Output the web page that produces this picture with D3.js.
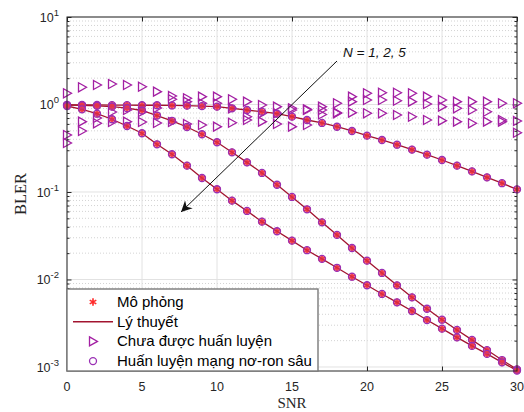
<!DOCTYPE html>
<html>
<head>
<meta charset="utf-8">
<script src="https://cdn.jsdelivr.net/npm/d3@7"></script>
<style>
  body { margin: 0; background: #fff; }
  svg { display: block; }
</style>
</head>
<body>
<div id="chart"></div>
<script>

// canvas size and plot box
const width = 524;
const height = 412;
const margin = {left: 67, right: 7, top: 17, bottom: 41};

// SNR values (x axis)
const snr = d3.range(0, 31);

// theory / simulated BLER, one array per N
const blerN1 = [0.99, 0.99, 0.99, 0.985, 0.985, 0.98, 0.98, 0.975, 0.97, 0.96,
  0.944, 0.905, 0.865, 0.827, 0.785, 0.726, 0.665, 0.615, 0.557, 0.498,
  0.44, 0.393, 0.347, 0.305, 0.267, 0.232, 0.2, 0.172, 0.147, 0.126, 0.107];
const blerN2 = [0.987, 0.979, 0.966, 0.944, 0.908, 0.854, 0.748, 0.651, 0.553, 0.457,
  0.37, 0.284, 0.218, 0.165, 0.121, 0.0877, 0.0634, 0.045, 0.0323, 0.0229,
  0.0164, 0.01187, 0.00857, 0.00625, 0.00463, 0.00347, 0.00265, 0.00204, 0.00156, 0.0012, 0.00094];
const blerN5 = [0.961, 0.881, 0.785, 0.678, 0.568, 0.469, 0.351, 0.27, 0.2, 0.1445,
  0.1074, 0.0796, 0.0607, 0.0458, 0.0356, 0.0278, 0.0216, 0.0172, 0.0136, 0.01076,
  0.00859, 0.00683, 0.00548, 0.00436, 0.00344, 0.00274, 0.00218, 0.00174, 0.00141, 0.00113, 0.00091];

// untrained receiver BLER (triangles), three series
const untrainedA = [1.343, 1.573, 1.671, 1.715, 1.671, 1.597, 1.401, 1.251, 1.177, 1.228,
  1.228, 1.147, 1.077, 0.987, 0.944, 0.905, 0.882, 0.944, 1.032, 1.228,
  1.343, 1.364, 1.364, 1.343, 1.228, 1.126, 1.077, 1.077, 1.077, 1.032, 1.032];
const untrainedB = [0.363, 0.498, 0.701, 0.821, 0.865, 0.821, 0.912, 1.147, 1.077, 1.032,
  1.032, 0.905, 0.725, 0.793, 0.793, 0.865, 0.865, 0.865, 0.806, 1.077,
  1.126, 1.126, 1.105, 1.077, 1.013, 0.944, 0.905, 0.865, 0.827, 0.665, 0.648];
const untrainedC = [0.448, 0.636, 0.61, 0.631, 0.636, 0.631, 0.615, 0.631, 0.599, 0.583,
  0.558, 0.619, 0.665, 0.636, 0.599, 0.558, 0.583, 0.769, 0.793, 0.806,
  0.793, 0.793, 0.759, 0.725, 0.665, 0.653, 0.636, 0.61, 0.636, 0.636, 0.476];

// axis ticks and legend text
const xTicks = [0, 5, 10, 15, 20, 25, 30];
const yTickExp = [1, 0, -1, -2, -3];
const legendLabels = ["Mô phỏng", "Lý thuyết", "Chưa được huấn luyện", "Huấn luyện mạng nơ-ron sâu"];

const lineColor = "#a2142f";
const starColor = "#ff2a2a";
const triColor = "#a31fa3";
const circColor = "#9a2fb4";
const axisColor = "#262626";

const svg = d3.select("#chart")
  .append("svg")
  .attr("width", width)
  .attr("height", height)
  .attr("font-family", "'Liberation Sans', Arial, sans-serif");

// scales
const xScale = d3.scaleLinear()
  .domain([0, 30])
  .range([margin.left, width - margin.right]);

const yScale = d3.scaleLog()
  .domain([Math.pow(10, -3.046), 10])
  .range([height - margin.bottom, margin.top]);

const x0 = xScale.range()[0], x1 = xScale.range()[1];
const yb = yScale.range()[0], yt = yScale.range()[1];

// minor tick values 2..9 x 10^k
const minorVals = [];
for (let k = -3; k <= 0; k++) {
  for (let m = 2; m <= 9; m++) minorVals.push(m * Math.pow(10, k));
}

/* grid */
const grid = svg.append("g");
grid.selectAll(".minor")
  .data(minorVals)
  .enter()
  .append("line")
    .attr("x1", x0).attr("x2", x1)
    .attr("y1", d => yScale(d)).attr("y2", d => yScale(d))
    .attr("stroke", "#c8c8c8")
    .attr("stroke-width", 0.8)
    .attr("stroke-dasharray", "1,2");
grid.selectAll(".ymajor")
  .data(yTickExp.map(e => Math.pow(10, e)))
  .enter()
  .append("line")
    .attr("x1", x0).attr("x2", x1)
    .attr("y1", d => yScale(d)).attr("y2", d => yScale(d))
    .attr("stroke", "#e2e2e2")
    .attr("stroke-width", 1);
grid.selectAll(".xmajor")
  .data(xTicks)
  .enter()
  .append("line")
    .attr("x1", d => xScale(d)).attr("x2", d => xScale(d))
    .attr("y1", yt).attr("y2", yb)
    .attr("stroke", "#e2e2e2")
    .attr("stroke-width", 1);

/* axes (ticks point inward, MATLAB style) */
const styleAxis = g => {
  g.select(".domain").remove();
  g.selectAll(".tick line").attr("stroke", axisColor);
  g.selectAll(".tick text").remove();
};

svg.append("g")
  .attr("transform", `translate(0,${yb})`)
  .call(d3.axisBottom(xScale).tickValues(xTicks).tickSize(-4.5))
  .call(styleAxis);
svg.append("g")
  .attr("transform", `translate(0,${yt})`)
  .call(d3.axisTop(xScale).tickValues(xTicks).tickSize(-4.5))
  .call(styleAxis);
svg.append("g")
  .attr("transform", `translate(${x0},0)`)
  .call(d3.axisLeft(yScale).tickValues(yTickExp.map(e => Math.pow(10, e))).tickSize(-4.5))
  .call(styleAxis);
svg.append("g")
  .attr("transform", `translate(${x0},0)`)
  .call(d3.axisLeft(yScale).tickValues(minorVals).tickSize(-2.5))
  .call(styleAxis);
svg.append("g")
  .attr("transform", `translate(${x1},0)`)
  .call(d3.axisRight(yScale).tickValues(yTickExp.map(e => Math.pow(10, e))).tickSize(-4.5))
  .call(styleAxis);
svg.append("g")
  .attr("transform", `translate(${x1},0)`)
  .call(d3.axisRight(yScale).tickValues(minorVals).tickSize(-2.5))
  .call(styleAxis);

// x tick labels
svg.selectAll(".xlab")
  .data(xTicks)
  .enter()
  .append("text")
    .attr("x", d => xScale(d))
    .attr("y", yb + 20)
    .attr("text-anchor", "middle")
    .attr("font-size", "12.5px")
    .attr("fill", axisColor)
    .text(d => d);

// y tick labels 10^k
const ylab = svg.selectAll(".ylab")
  .data(yTickExp)
  .enter()
  .append("text")
    .attr("x", x0 - 8)
    .attr("y", d => yScale(Math.pow(10, d)) + 5)
    .attr("text-anchor", "end")
    .attr("font-size", "12.5px")
    .attr("fill", axisColor);
ylab.append("tspan").text("10");
ylab.append("tspan")
  .attr("dy", -6)
  .attr("font-size", "9.5px")
  .text(d => d < 0 ? "-" + Math.abs(d) : d);

// axis titles
svg.append("text")
  .attr("x", (x0 + x1) / 2)
  .attr("y", 408)
  .attr("text-anchor", "middle")
  .attr("font-family", "'Liberation Serif', 'Times New Roman', serif")
  .attr("font-size", "15px")
  .attr("fill", axisColor)
  .text("SNR");
svg.append("text")
  .attr("transform", `translate(26,${(yt + yb) / 2}) rotate(-90)`)
  .attr("text-anchor", "middle")
  .attr("font-family", "'Liberation Serif', 'Times New Roman', serif")
  .attr("font-size", "16.5px")
  .attr("fill", axisColor)
  .text("BLER");

/* data */
const plot = svg.append("g");
const theory = [blerN1, blerN2, blerN5];
const untrained = [untrainedA, untrainedB, untrainedC];

const line = d3.line()
  .x((d, i) => xScale(snr[i]))
  .y(d => yScale(d));

const star = d3.symbol().type(d3.symbolAsterisk).size(40);
const triPath = "M-3.5,-4.5L4.5,0L-3.5,4.5Z";

// asterisks (simulation)
theory.forEach(s => {
  plot.append("g").selectAll("path")
    .data(s)
    .enter()
    .append("path")
      .attr("transform", (d, i) => `translate(${xScale(snr[i])},${yScale(d)})`)
      .attr("d", star)
      .attr("fill", "none")
      .attr("stroke", starColor)
      .attr("stroke-width", 1.6);
});

// theory lines
theory.forEach(s => {
  plot.append("path")
    .datum(s)
    .attr("d", line)
    .attr("fill", "none")
    .attr("stroke", lineColor)
    .attr("stroke-width", 1.3);
});

// untrained triangles
untrained.forEach(s => {
  plot.append("g").selectAll("path")
    .data(s)
    .enter()
    .append("path")
      .attr("transform", (d, i) => `translate(${xScale(snr[i])},${yScale(d)})`)
      .attr("d", triPath)
      .attr("fill", "none")
      .attr("stroke", triColor)
      .attr("stroke-width", 1.3);
});

// trained DNN circles
theory.forEach(s => {
  plot.append("g").selectAll("circle")
    .data(s)
    .enter()
    .append("circle")
      .attr("cx", (d, i) => xScale(snr[i]))
      .attr("cy", d => yScale(d))
      .attr("r", 3.5)
      .attr("fill", "rgba(235,60,80,0.6)")
      .attr("stroke", circColor)
      .attr("stroke-width", 1.3);
});

/* annotation arrow */
svg.append("defs").append("marker")
  .attr("id", "head")
  .attr("viewBox", "0 0 10 10")
  .attr("refX", 10).attr("refY", 5)
  .attr("markerWidth", 11).attr("markerHeight", 11)
  .attr("markerUnits", "userSpaceOnUse")
  .attr("orient", "auto")
  .append("path")
    .attr("d", "M0,0L10,5L0,10L3,5Z")
    .attr("fill", "#111");
svg.append("line")
  .attr("x1", 337).attr("y1", 61)
  .attr("x2", 181).attr("y2", 212)
  .attr("stroke", "#111")
  .attr("stroke-width", 1)
  .attr("marker-end", "url(#head)");
svg.append("text")
  .attr("x", 343)
  .attr("y", 57)
  .attr("font-size", "13.5px")
  .attr("font-style", "italic")
  .attr("fill", "#111")
  .text("N = 1, 2, 5");

/* plot box */
svg.append("rect")
  .attr("x", x0).attr("y", yt)
  .attr("width", x1 - x0).attr("height", yb - yt)
  .attr("fill", "none")
  .attr("stroke", axisColor)
  .attr("stroke-width", 1);

/* legend */
const lg = svg.append("g").attr("transform", `translate(${x0},289)`);
lg.append("rect")
  .attr("x", 0).attr("y", 0)
  .attr("width", 251).attr("height", yb - 289)
  .attr("fill", "#fff")
  .attr("stroke", "#7a7a7a")
  .attr("stroke-width", 1.4);

const rowY = i => 13 + i * 19.7;
lg.selectAll("text")
  .data(legendLabels)
  .enter()
  .append("text")
    .attr("x", 50)
    .attr("y", (d, i) => rowY(i) + 5)
    .attr("font-size", "15px")
    .attr("fill", "#000")
    .text(d => d);

lg.append("path")
  .attr("transform", `translate(26,${rowY(0)})`)
  .attr("d", star)
  .attr("fill", "none")
  .attr("stroke", starColor)
  .attr("stroke-width", 1.6);
lg.append("line")
  .attr("x1", 6).attr("x2", 46)
  .attr("y1", rowY(1)).attr("y2", rowY(1))
  .attr("stroke", lineColor)
  .attr("stroke-width", 1.5);
lg.append("path")
  .attr("transform", `translate(26,${rowY(2)})`)
  .attr("d", triPath)
  .attr("fill", "none")
  .attr("stroke", triColor)
  .attr("stroke-width", 1.3);
lg.append("circle")
  .attr("cx", 26).attr("cy", rowY(3))
  .attr("r", 3.5)
  .attr("fill", "none")
  .attr("stroke", circColor)
  .attr("stroke-width", 1.3);

</script>
</body>
</html>
